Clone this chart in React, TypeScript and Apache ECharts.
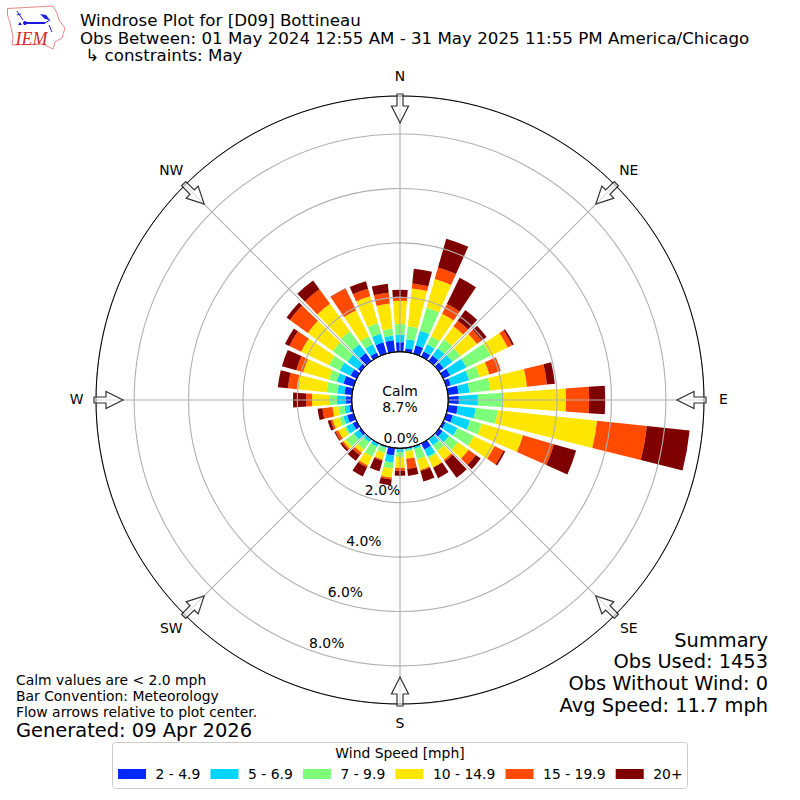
import React, { useEffect, useRef } from "react";
import * as echarts from "echarts";

const directions = Array.from({ length: 36 }, (_, i) => String(i * 10));
const speedBins = ["2 - 4.9", "5 - 6.9", "7 - 9.9", "10 - 14.9", "15 - 19.9", "20+"];
const binColors = ["#0028ff", "#00d4ff", "#7dff7a", "#ffe600", "#ff4a00", "#7f0000"];

const bin1 = [.35,.14,.32,.21,.25,.21,.28,.17,.39,.39,.36,.25,.10,.17,.03,.25,.03,.01,.01,.28,.01,.03,.03,.10,.17,.25,.10,.21,.28,.39,.25,.14,.36,.17,.43,.43];
const bin2 = [.27,.33,.55,.29,.33,.40,.66,.70,.40,.70,.66,.66,.48,.29,.26,.29,.07,.06,.13,.26,.06,.11,.11,.22,.26,.15,.18,.33,.26,.26,.44,.48,.40,.33,.33,.18];
const bin3 = [.40,.48,.88,.33,.40,.37,.99,.40,.77,.92,.81,.44,.66,.40,.26,.07,.40,.07,.18,.22,.18,.40,.33,.37,.07,.15,.22,.29,.40,.29,.44,.66,.59,.33,.40,.26];
const bin4 = [.85,1.40,1.10,.92,.59,.74,.70,.37,1.36,2.32,3.68,1.58,.85,.48,.40,.37,.40,.26,.40,.33,.26,.37,.15,.11,.26,.26,.22,.63,1.10,.99,1.14,1.14,1.25,1.07,1.03,.92];
const bin5 = [.15,.18,.44,.40,.26,.22,.18,.44,.74,.85,1.84,1.18,.37,.33,.07,.02,.04,.37,.11,.07,.04,.07,.11,.07,.11,.07,.37,.22,.33,.26,.48,.81,.66,.88,.29,.40];
const bin6 = [.26,.55,1.10,1.07,.48,.22,.07,0,.29,.59,1.58,.85,.07,.22,.74,.42,.40,.26,.18,.22,.40,.37,.26,.07,.04,.11,.18,.48,.37,.55,.18,.15,.40,.02,.29,.33];
const binValues = [bin1, bin2, bin3, bin4, bin5, bin6];

const compassLabels = ["N", "NE", "E", "SE", "S", "SW", "W", "NW"];
const titleLines = [
  "Windrose Plot for [D09] Bottineau",
  "Obs Between: 01 May 2024 12:55 AM - 31 May 2025 11:55 PM America/Chicago",
  " \u21b3 constraints: May",
];
const footLines = ["Calm values are < 2.0 mph", "Bar Convention: Meteorology", "Flow arrows relative to plot center."];
const generated = "Generated: 09 Apr 2026";
const summaryLines = ["Summary", "Obs Used: 1453", "Obs Without Wind: 0", "Avg Speed: 11.7 mph"];

const FONT = "'DejaVu Sans'";
const CX = 400, CY = 400, R0 = 48.3, R1 = 304, RMAX = 9.4;

function txt(x: number, y: number, text: string, size: number, align = "left", extra: any = {}) {
  return {
    type: "text", x, y, z: 20, silent: true,
    style: { text, fontFamily: FONT, fontSize: size, fill: "#000", align, verticalAlign: "middle", ...extra },
  };
}

function arrow(i: number) {
  const pts = [[-3, -306], [3, -306], [3, -294], [8.5, -294], [0, -277], [-8.5, -294], [-3, -294]];
  return {
    type: "polygon", x: CX, y: CY, rotation: (-i * 45 * Math.PI) / 180, z: 15, silent: true,
    shape: { points: pts },
    style: { fill: "rgba(255,255,255,0.55)", stroke: "#333", lineWidth: 1.2 },
  };
}

function logo() {
  const outline = [[7.5,8.5],[53,6],[57,13],[59,20],[65,28],[62,38],[55,42],[53,49],[43,44],[12,45],[13,37],[10,23],[7.5,15]];
  const blue = "#1a1ae0";
  return [
    { type: "polygon", z: 20, shape: { points: outline }, style: { fill: "#fff", stroke: "#e58a8a", lineWidth: 1 } },
    { type: "line", z: 21, shape: { x1: 25, y1: 23, x2: 45, y2: 23 }, style: { stroke: blue, lineWidth: 2 } },
    { type: "line", z: 21, shape: { x1: 45, y1: 23, x2: 50, y2: 20 }, style: { stroke: blue, lineWidth: 1 } },
    { type: "circle", z: 21, shape: { cx: 25, cy: 23, r: 2 }, style: { fill: blue } },
    { type: "polygon", z: 21, shape: { points: [[40,14],[46,15],[50,20],[45,19]] }, style: { fill: blue } },
    { type: "line", z: 21, shape: { x1: 17, y1: 11, x2: 23, y2: 20 }, style: { stroke: blue, lineWidth: 1 } },
    { type: "line", z: 21, shape: { x1: 17, y1: 15, x2: 21, y2: 14 }, style: { stroke: blue, lineWidth: 1 } },
    { type: "line", z: 21, shape: { x1: 49, y1: 25, x2: 52, y2: 32 }, style: { stroke: blue, lineWidth: 1 } },
    { type: "polygon", z: 21, shape: { points: [[20,22],[22,25],[18,25]] }, style: { fill: blue } },
    { type: "text", x: 15.5, y: 38.5, z: 21, style: { text: "IEM", fontFamily: "'Liberation Serif'", fontStyle: "italic", fontSize: 18, fill: "#d42a2a", verticalAlign: "middle" } },
  ];
}

function buildOption() {
  const compass = compassLabels.map((c, i) => {
    const a = (i * 45 * Math.PI) / 180;
    return txt(CX + 323.5 * Math.sin(a), CY - 323.5 * Math.cos(a) - 1, c, 13.9, "center");
  });
  const polarBase = { center: [CX, CY], radius: [R0, R1] };
  const emptyAngle = {
    type: "value", min: 0, max: 360,
    axisLine: { show: false }, axisTick: { show: false }, axisLabel: { show: false }, splitLine: { show: false },
  };
  const emptyRadius = {
    type: "value", min: 0, max: RMAX,
    axisLine: { show: false }, axisTick: { show: false }, axisLabel: { show: false }, splitLine: { show: false },
  };
  return {
    animation: false,
    backgroundColor: "#fff",
    polar: [polarBase, polarBase, polarBase],
    angleAxis: [
      { ...emptyAngle, type: "category", min: undefined, max: undefined, polarIndex: 0, startAngle: 95, data: directions, boundaryGap: true },
      {
        ...emptyAngle, polarIndex: 1, startAngle: 90, interval: 45, z: 6,
        axisLine: { show: true, lineStyle: { color: "#000", width: 1 } },
        splitLine: { show: true, lineStyle: { color: "#b0b0b0", width: 1.1 } },
      },
      { ...emptyAngle, polarIndex: 2, startAngle: -110 },
    ],
    radiusAxis: [
      { ...emptyRadius, polarIndex: 0 },
      {
        ...emptyRadius, polarIndex: 1, interval: 2, z: 5,
        splitLine: { show: true, lineStyle: { color: "#b0b0b0", width: 1.1 } },
      },
      {
        ...emptyRadius, polarIndex: 2, interval: 2, z: 8,
        axisLabel: {
          show: true, fontFamily: FONT, fontSize: 13.9, color: "#000", margin: 0, verticalAlign: "bottom",
          formatter: (v: number) => (v <= 8 ? v.toFixed(1) + "%" : ""),
        },
      },
    ],
    legend: {
      left: 118, top: 767, padding: 0, itemWidth: 28, itemHeight: 10, itemGap: 10.2, icon: "rect",
      selectedMode: false, z: 25,
      textStyle: { fontFamily: FONT, fontSize: 13.9, color: "#000", padding: [0, 0, 0, 4.5] },
      data: speedBins,
    },
    series: binValues.map((vals, i) => ({
      type: "bar", name: speedBins[i], coordinateSystem: "polar", polarIndex: 0, stack: "wind",
      barWidth: "80%", data: vals, z: 2,
      itemStyle: { color: binColors[i] },
      emphasis: { disabled: true }, silent: true,
    })),
    graphic: [
      { type: "circle", z: 14, silent: true, shape: { cx: CX, cy: CY, r: R0 }, style: { fill: "transparent", stroke: "#000", lineWidth: 1 } },
      ...compassLabels.map((_, i) => arrow(i)),
      ...compass,
      txt(400, 391, "Calm", 13.9, "center"),
      txt(400, 407, "8.7%", 13.9, "center"),
      ...titleLines.map((t, i) => txt(80, 20.5 + i * 17.5, t, 16.67)),
      ...footLines.map((t, i) => txt(16, 680 + i * 16, t, 13.9)),
      txt(16, 730, generated, 19.44),
      ...summaryLines.map((t, i) => txt(768, 640 + i * 21.7, t, 19.4, "right")),
      { type: "rect", z: 18, silent: true, shape: { x: 112.5, y: 742.5, width: 575, height: 46, r: 3 }, style: { fill: "#fff", stroke: "#ccc", lineWidth: 1 } },
      txt(400, 753, "Wind Speed [mph]", 13.9, "center"),
      ...logo(),
    ],
  };
}

export default function App() {
  const ref = useRef<HTMLDivElement>(null);
  useEffect(() => {
    document.body.style.margin = "0";
    const chart = echarts.init(ref.current as HTMLDivElement, undefined, { renderer: "svg" });
    chart.setOption(buildOption() as any);
    return () => chart.dispose();
  }, []);
  return <div ref={ref} style={{ width: 800, height: 800 }} />;
}
